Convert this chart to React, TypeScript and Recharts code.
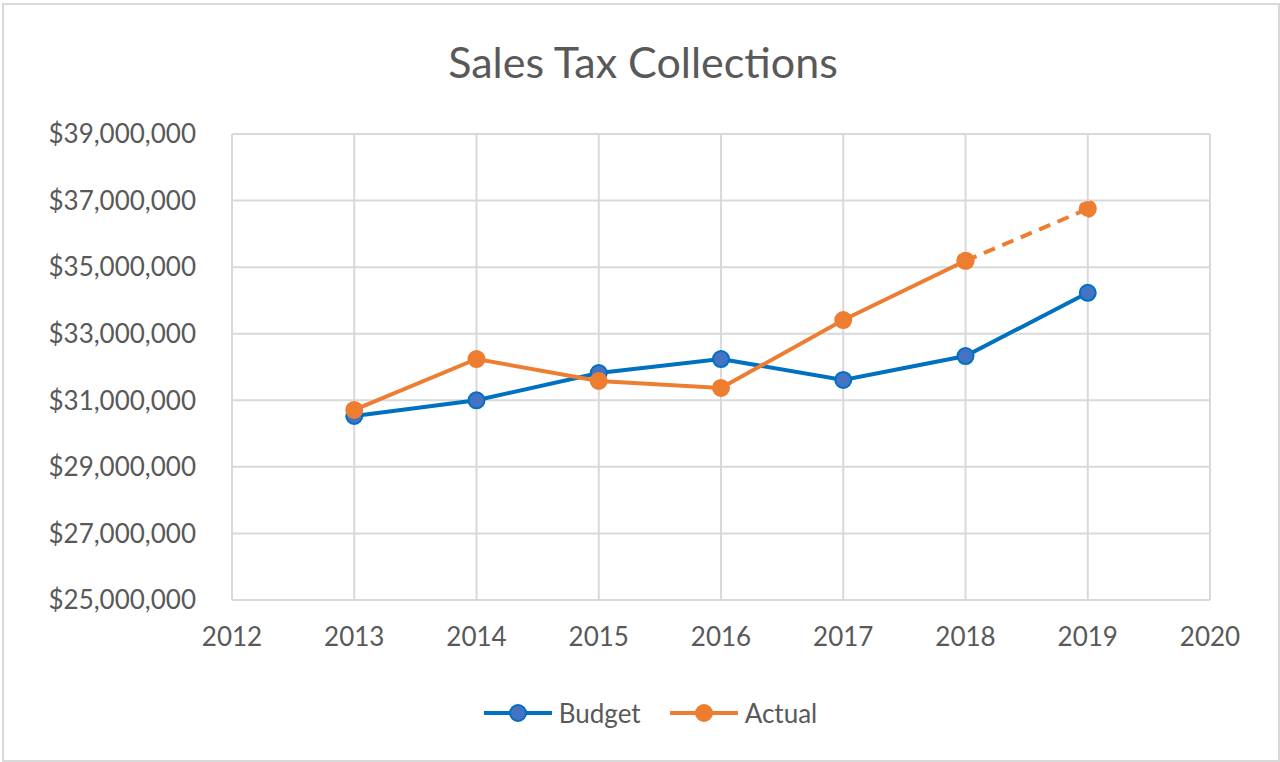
import * as React from "react"
import { CartesianGrid, Line, LineChart, XAxis, YAxis } from "recharts"

const years = [2013, 2014, 2015, 2016, 2017, 2018, 2019]
const budget = [30530000, 31000000, 31820000, 32240000, 31610000, 32330000, 34230000]
const actual = [30710000, 32240000, 31580000, 31370000, 33410000, 35190000, null]
// 2018 -> 2019 is drawn dashed in the original
const actualProjected = [null, null, null, null, null, 35190000, 36750000]

const xTicks = [2012, 2013, 2014, 2015, 2016, 2017, 2018, 2019, 2020]
const yTicks = [25000000, 27000000, 29000000, 31000000, 33000000, 35000000, 37000000, 39000000]

const rows = years.map((year, i) => ({
  year,
  budget: budget[i],
  actual: actual[i],
  actualProjected: actualProjected[i],
}))

const FONT = "Lato, 'Noto Sans', sans-serif"
const TEXT = "#595959"
const GRID = "#d9d9d9"
const BLUE = "#0070c0"
const BLUE_FILL = "#4472c4"
const ORANGE = "#ed7d31"

const legendItems = [
  { name: "Budget", stroke: BLUE, fill: BLUE_FILL },
  { name: "Actual", stroke: ORANGE, fill: ORANGE },
]

const money = (v: number) => "$" + v.toLocaleString("en-US")

const ChartLegend = () => (
  <div
    style={{
      position: "absolute",
      left: 0,
      width: 1300,
      top: 697,
      display: "flex",
      justifyContent: "center",
      gap: 28,
      fontFamily: FONT,
    }}
  >
    {legendItems.map((it) => (
      <div key={it.name} style={{ display: "flex", alignItems: "center" }}>
        <svg width={70} height={26}>
          <line x1={1} y1={13} x2={69} y2={13} stroke={it.stroke} strokeWidth={4} />
          <circle cx={35} cy={13} r={8} fill={it.fill} stroke={it.stroke} strokeWidth={2} />
        </svg>
        <span style={{ fontSize: 26, color: TEXT, marginLeft: 6 }}>{it.name}</span>
      </div>
    ))}
  </div>
)

export default function App() {
  return (
    <div style={{ position: "absolute", left: 0, top: 0, width: 1280, height: 762, background: "#fff" }}>
      <div
        style={{
          position: "absolute",
          left: 2,
          top: 3,
          width: 1274,
          height: 755,
          border: `2px solid ${GRID}`,
        }}
      />
      <div
        style={{
          position: "absolute",
          left: 0,
          width: 1286,
          top: 36,
          textAlign: "center",
          fontFamily: FONT,
          fontSize: 43,
          color: TEXT,
        }}
      >
        Sales Tax Collections
      </div>
      <LineChart
        width={1280}
        height={762}
        data={rows}
        margin={{ top: 134, right: 70, bottom: 102, left: 0 }}
        style={{ position: "absolute", left: 0, top: 0 }}
      >
        <CartesianGrid stroke={GRID} strokeWidth={2} />
        <XAxis
          dataKey="year"
          type="number"
          domain={[2012, 2020]}
          ticks={xTicks}
          axisLine={{ stroke: GRID, strokeWidth: 2 }}
          tickLine={false}
          tickSize={0}
          tickMargin={28}
          height={60}
          tick={{ fill: TEXT, fontSize: 26, fontFamily: FONT }}
        />
        <YAxis
          type="number"
          domain={[25000000, 39000000]}
          ticks={yTicks}
          tickFormatter={money}
          axisLine={false}
          tickLine={false}
          tickSize={0}
          tickMargin={36}
          width={232}
          tick={{ fill: TEXT, fontSize: 26, fontFamily: FONT }}
        />
        <Line
          dataKey="budget"
          name="Budget"
          stroke={BLUE}
          strokeWidth={4}
          dot={{ r: 8, fill: BLUE_FILL, stroke: BLUE, strokeWidth: 2 }}
          isAnimationActive={false}
        />
        <Line
          dataKey="actual"
          name="Actual"
          stroke={ORANGE}
          strokeWidth={4}
          dot={{ r: 8, fill: ORANGE, stroke: ORANGE, strokeWidth: 2 }}
          isAnimationActive={false}
        />
        <Line
          dataKey="actualProjected"
          name="Actual (projected)"
          legendType="none"
          stroke={ORANGE}
          strokeWidth={4}
          strokeDasharray="12 8"
          dot={{ r: 8, fill: ORANGE, stroke: ORANGE, strokeWidth: 2 }}
          isAnimationActive={false}
        />
      </LineChart>
      <ChartLegend />
    </div>
  )
}
